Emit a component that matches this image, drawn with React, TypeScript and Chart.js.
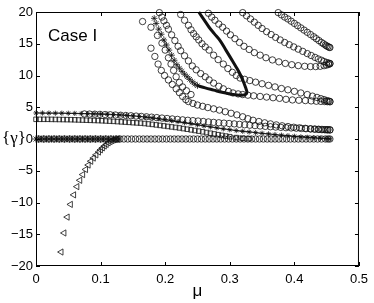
import React, { useEffect, useRef } from 'react';
import { Chart, registerables } from 'chart.js';

Chart.register(...registerables);

// ---------- data (μ, γ) ----------
const triMu = [0.039, 0.0435, 0.0485, 0.0535, 0.0585, 0.0635, 0.068, 0.0725, 0.077, 0.081, 0.085, 0.089, 0.093, 0.097, 0.1, 0.103, 0.106, 0.109, 0.112, 0.115, 0.118, 0.121, 0.124, 0.127];
const triG = [-17.8, -14.8, -12.3, -10.3, -8.8, -7.5, -6.5, -5.6, -4.8, -4.1, -3.5, -3.0, -2.5, -2.05, -1.7, -1.4, -1.1, -0.85, -0.6, -0.4, -0.25, -0.12, -0.05, 0];

const zeroStarMu = [0, 0.004, 0.008, 0.012, 0.016, 0.02, 0.024, 0.028, 0.032, 0.036,
  0.04, 0.044, 0.048, 0.052, 0.056, 0.06, 0.064, 0.068, 0.072, 0.076,
  0.08, 0.084, 0.088, 0.092, 0.096, 0.1, 0.104, 0.108, 0.112, 0.116,
  0.12, 0.124, 0.128];
const zeroStarG = [0, 0, 0, 0, 0, 0, 0, 0, 0, 0,
  0, 0, 0, 0, 0, 0, 0, 0, 0, 0,
  0, 0, 0, 0, 0, 0, 0, 0, 0, 0,
  0, 0, 0];

const zeroCircMu = [0.004, 0.012, 0.02, 0.028, 0.036, 0.044, 0.052, 0.06, 0.068, 0.076,
  0.084, 0.092, 0.1, 0.108, 0.116, 0.124, 0.13, 0.136, 0.142, 0.148,
  0.154, 0.16, 0.166, 0.172, 0.178, 0.184, 0.19, 0.196, 0.202, 0.208,
  0.214, 0.22, 0.226, 0.232, 0.238, 0.244, 0.25, 0.256, 0.262, 0.268,
  0.274, 0.28, 0.286, 0.292, 0.298, 0.304, 0.31, 0.316, 0.322, 0.328,
  0.334, 0.34, 0.346, 0.352, 0.358, 0.364, 0.37, 0.376, 0.382, 0.388,
  0.394, 0.4, 0.406, 0.412, 0.418, 0.424, 0.43, 0.436, 0.442, 0.448,
  0.452, 0.455];
const zeroCircG = [0, 0, 0, 0, 0, 0, 0, 0, 0, 0,
  0, 0, 0, 0, 0, 0, 0, 0, 0, 0,
  0, 0, 0, 0, 0, 0, 0, 0, 0, 0,
  0, 0, 0, 0, 0, 0, 0, 0, 0, 0,
  0, 0, 0, 0, 0, 0, 0, 0, 0, 0,
  0, 0, 0, 0, 0, 0, 0, 0, 0, 0,
  0, 0, 0, 0, 0, 0, 0, 0, 0, 0,
  0, 0];

const sqMu = [0, 0.006, 0.012, 0.018, 0.024, 0.03, 0.036, 0.042, 0.048, 0.054,
  0.06, 0.066, 0.072, 0.078, 0.084, 0.09, 0.096, 0.102, 0.108, 0.114,
  0.12, 0.126, 0.132, 0.138, 0.144, 0.15, 0.156, 0.162, 0.168, 0.174,
  0.18, 0.186, 0.192, 0.198, 0.204, 0.21, 0.216, 0.222, 0.228, 0.234,
  0.24, 0.246, 0.252, 0.258, 0.264, 0.27, 0.276, 0.282, 0.288, 0.294,
  0.3, 0.31, 0.32, 0.33];
const sqG = [3.1, 3.1, 3.1, 3.1, 3.09, 3.08, 3.07, 3.06, 3.05, 3.04,
  3.02, 3.0, 2.98, 2.96, 2.94, 2.92, 2.9, 2.87, 2.84, 2.81,
  2.78, 2.74, 2.7, 2.66, 2.62, 2.57, 2.53, 2.5, 2.44, 2.37,
  2.3, 2.22, 2.14, 2.06, 1.98, 1.9, 1.82, 1.74, 1.64, 1.54,
  1.44, 1.34, 1.24, 1.13, 1.02, 0.91, 0.8, 0.68, 0.57, 0.46,
  0.36, 0.22, 0.12, 0.05];

const hMu = [0, 0.01, 0.02, 0.03, 0.04, 0.05, 0.06, 0.07, 0.08, 0.09,
  0.1, 0.11, 0.12, 0.13, 0.14, 0.15, 0.16, 0.17, 0.18, 0.19,
  0.2, 0.21, 0.22, 0.23, 0.24, 0.25, 0.26, 0.27, 0.28, 0.29,
  0.3, 0.31, 0.32, 0.33, 0.34, 0.35, 0.36, 0.37, 0.38, 0.39,
  0.4, 0.41, 0.42, 0.43, 0.44, 0.45, 0.455];
const hG = [4.1, 4.09, 4.08, 4.07, 4.06, 4.05, 4.03, 4.01, 3.99, 3.97,
  3.94, 3.9, 3.85, 3.79, 3.72, 3.64, 3.55, 3.44, 3.32, 3.19,
  3.05, 2.9, 2.74, 2.57, 2.4, 2.23, 2.06, 1.9, 1.75, 1.6,
  1.46, 1.33, 1.22, 1.11, 1.0, 0.9, 0.8, 0.7, 0.6, 0.51,
  0.42, 0.34, 0.26, 0.19, 0.12, 0.06, 0.03];

const m1Mu = [0.075, 0.083, 0.091, 0.099, 0.107, 0.115, 0.123, 0.131, 0.139, 0.147,
  0.155, 0.163, 0.171, 0.179, 0.187, 0.195, 0.203, 0.211, 0.219, 0.227,
  0.235, 0.243, 0.251, 0.259, 0.267, 0.275, 0.283, 0.291, 0.299, 0.307,
  0.315, 0.323, 0.331, 0.339, 0.347, 0.355, 0.363, 0.371, 0.379, 0.387,
  0.395, 0.403, 0.411, 0.418, 0.425, 0.431, 0.437, 0.442, 0.447, 0.451, 0.455];
const m1G = [3.95, 3.93, 3.91, 3.88, 3.85, 3.82, 3.78, 3.74, 3.7, 3.66,
  3.61, 3.56, 3.5, 3.44, 3.37, 3.3, 3.23, 3.16, 3.09, 3.02,
  2.95, 2.89, 2.83, 2.76, 2.69, 2.62, 2.56, 2.5, 2.44, 2.38,
  2.31, 2.24, 2.17, 2.11, 2.05, 1.99, 1.93, 1.88, 1.83, 1.78,
  1.74, 1.7, 1.66, 1.62, 1.58, 1.55, 1.52, 1.49, 1.46, 1.44, 1.42];

const k1Mu = [0.165, 0.178, 0.188, 0.195, 0.2, 0.205, 0.209, 0.213, 0.217, 0.222, 0.227, 0.233, 0.24];
const k1G = [18.5, 17.6, 16.3, 15.1, 14.0, 12.8, 11.8, 10.8, 9.8, 8.9, 8.2, 7.6, 7.0];

const k2Mu = [0.178, 0.184, 0.189, 0.194, 0.199, 0.205, 0.211, 0.217, 0.222, 0.227,
  0.232, 0.236, 0.243, 0.25, 0.258, 0.266, 0.275, 0.284, 0.293, 0.302,
  0.311, 0.32, 0.328, 0.336, 0.345, 0.354, 0.363, 0.372, 0.381, 0.39,
  0.399, 0.408, 0.417, 0.425, 0.432, 0.438, 0.444, 0.449, 0.452, 0.455];
const k2G = [14.3, 13.0, 11.8, 10.8, 10.0, 9.3, 8.6, 7.9, 7.3, 6.7,
  6.2, 5.9, 5.6, 5.35, 5.15, 4.95, 4.75, 4.55, 4.3, 4.05,
  3.8, 3.5, 3.2, 2.95, 2.75, 2.55, 2.38, 2.22, 2.08, 1.96,
  1.85, 1.76, 1.68, 1.61, 1.56, 1.52, 1.49, 1.47, 1.46, 1.45];

const caMu = [0.375, 0.38, 0.385, 0.39, 0.395, 0.4, 0.405, 0.41, 0.415, 0.42, 0.425, 0.43, 0.434, 0.438, 0.442, 0.445, 0.448, 0.45, 0.452, 0.454, 0.455];
const caG = [19.9, 19.55, 19.2, 18.9, 18.55, 18.2, 17.85, 17.5, 17.15, 16.8, 16.45, 16.1, 15.8, 15.5, 15.2, 15.0, 14.8, 14.65, 14.55, 14.45, 14.4];

const cbLowMu = [0.267, 0.272, 0.277, 0.283, 0.289, 0.295, 0.301, 0.308, 0.315, 0.322,
  0.33, 0.338, 0.347, 0.356, 0.366, 0.376, 0.386, 0.396, 0.406, 0.416,
  0.425, 0.433, 0.44, 0.446, 0.45, 0.453, 0.455];
const cbLowG = [19.8, 19.2, 18.7, 18.1, 17.6, 17.0, 16.4, 15.8, 15.2, 14.6,
  14.1, 13.6, 13.2, 12.8, 12.45, 12.15, 11.9, 11.7, 11.55, 11.45,
  11.4, 11.4, 11.45, 11.55, 11.65, 11.75, 11.85];

const cbUpMu = [0.32, 0.326, 0.332, 0.338, 0.344, 0.35, 0.357, 0.364, 0.371, 0.378,
  0.385, 0.392, 0.399, 0.406, 0.413, 0.42, 0.426, 0.432, 0.437, 0.442,
  0.446, 0.45, 0.453, 0.455];
const cbUpG = [19.9, 19.4, 18.9, 18.4, 17.9, 17.4, 16.9, 16.45, 16.0, 15.6,
  15.2, 14.85, 14.5, 14.15, 13.8, 13.45, 13.15, 12.85, 12.6, 12.4,
  12.2, 12.05, 11.95, 11.9];

const ccMu = [0.224, 0.23, 0.236, 0.24, 0.244, 0.248, 0.252, 0.257, 0.262, 0.268,
  0.275, 0.282, 0.29, 0.297, 0.304, 0.31, 0.316, 0.323, 0.331, 0.34,
  0.35, 0.36, 0.37, 0.38, 0.39, 0.4, 0.41, 0.42, 0.428, 0.435,
  0.441, 0.446, 0.45, 0.453, 0.455];
const ccG = [19.6, 18.7, 17.9, 17.2, 16.6, 16.1, 15.6, 15.0, 14.5, 14.0,
  13.2, 12.5, 11.8, 11.1, 10.5, 10.0, 9.6, 9.4, 9.2, 8.95,
  8.7, 8.45, 8.2, 7.95, 7.75, 7.5, 7.25, 7.0, 6.75, 6.55,
  6.35, 6.2, 6.05, 5.97, 5.92];

const ceMu = [0.191, 0.195, 0.198, 0.202, 0.205, 0.21, 0.215, 0.22, 0.224, 0.23,
  0.236, 0.242, 0.248, 0.255, 0.262, 0.268, 0.275, 0.283, 0.29, 0.298,
  0.305, 0.313, 0.32, 0.328, 0.337, 0.347, 0.357, 0.367, 0.377, 0.387,
  0.397, 0.407, 0.417, 0.426, 0.434, 0.441, 0.447, 0.451, 0.455];
const ceG = [19.9, 19.2, 18.6, 17.9, 17.3, 16.4, 15.5, 14.6, 13.9, 13.1,
  12.3, 11.5, 10.9, 10.3, 9.8, 9.3, 8.8, 8.3, 7.9, 7.5,
  7.25, 7.1, 7.0, 6.9, 6.8, 6.7, 6.6, 6.5, 6.4, 6.25,
  6.15, 6.1, 6.05, 6.0, 5.95, 5.92, 5.9, 5.88, 5.85];

const f1Mu = [0.252, 0.26, 0.268, 0.276, 0.285, 0.294, 0.303, 0.31, 0.316, 0.32, 0.323, 0.3255, 0.3265, 0.325, 0.319, 0.31, 0.3, 0.288, 0.275, 0.262, 0.25];
const f1G = [20, 18.8, 17.6, 16.6, 15.5, 14.0, 12.5, 11.3, 10.2, 9.3, 8.5, 7.8, 7.35, 7.05, 6.9, 6.95, 7.1, 7.35, 7.7, 8.05, 8.4];

const sMu = [0.25, 0.246, 0.242, 0.238, 0.234, 0.23, 0.226, 0.222, 0.218, 0.214, 0.21, 0.206, 0.202, 0.198, 0.194, 0.19, 0.186, 0.183];
const sG = [8.4, 8.65, 9.0, 9.4, 9.8, 10.2, 10.65, 11.15, 11.7, 12.4, 13.2, 14.0, 14.8, 15.6, 16.5, 17.3, 18.2, 19.0];

const xTickValues = [0, 0.1, 0.2, 0.3, 0.4, 0.5];
const yTickValues = [-20, -15, -10, -5, 0, 5, 10, 15, 20];
const caseLabel = 'Case I';
const xTitle = 'μ';
const yTitle = '{γ}';

// ---------- helpers ----------
const INK = 'rgba(15,15,15,0.88)';

function pts(mu: number[], g: number[]) {
  return mu.map((x, i) => ({ x, y: g[i] }));
}

function markers(mu: number[], g: number[], style: string, radius: number, extra: any = {}) {
  return {
    data: pts(mu, g),
    showLine: false,
    pointStyle: style,
    pointRadius: radius,
    pointBorderColor: INK,
    pointBackgroundColor: 'rgba(0,0,0,0)',
    pointBorderWidth: 0.9,
    borderColor: INK,
    clip: false,
    ...extra,
  };
}

const deco = {
  id: 'deco',
  afterDraw(chart: any) {
    const { ctx, chartArea: a, scales } = chart;
    const xs = scales.x;
    const ys = scales.y;
    ctx.save();
    ctx.strokeStyle = '#000';
    ctx.lineWidth = 1;
    ctx.strokeRect(a.left + 0.5, a.top + 0.5, a.right - a.left - 1, a.bottom - a.top - 1);
    const L = 4;
    ctx.beginPath();
    for (const v of xTickValues) {
      const px = Math.round(xs.getPixelForValue(v)) + 0.5;
      ctx.moveTo(px, a.bottom);
      ctx.lineTo(px, a.bottom - L);
      ctx.moveTo(px, a.top);
      ctx.lineTo(px, a.top + L);
    }
    for (const v of yTickValues) {
      const py = Math.round(ys.getPixelForValue(v)) + 0.5;
      ctx.moveTo(a.left, py);
      ctx.lineTo(a.left + L, py);
      ctx.moveTo(a.right, py);
      ctx.lineTo(a.right - L, py);
    }
    ctx.stroke();

    ctx.fillStyle = '#000';
    ctx.font = '17px "Liberation Sans", Arial, sans-serif';
    ctx.textAlign = 'left';
    ctx.textBaseline = 'alphabetic';
    ctx.fillText(caseLabel, a.left + 12, a.top + 29);
    ctx.textAlign = 'center';
    ctx.fillText(xTitle, (a.left + a.right) / 2, a.bottom + 30);
    ctx.font = '17px "Liberation Serif", "DejaVu Serif", serif';
    ctx.textBaseline = 'middle';
    ctx.fillText(yTitle, a.left - 22, ys.getPixelForValue(0));
    ctx.restore();
  },
};

export default function App() {
  const ref = useRef<HTMLCanvasElement>(null);
  useEffect(() => {
    document.body.style.margin = '0';
    const datasets: any[] = [
      { data: pts(f1Mu, f1G), showLine: true, tension: 0.4, borderColor: '#111', borderWidth: 3, pointRadius: 0, clip: false },
      markers(sMu, sG, 'star', 3.2),
      markers(hMu, hG, 'star', 2.6, { showLine: true, borderWidth: 1.3 }),
      markers(triMu, triG, 'triangle', 3.6, { pointRotation: -90 }),
      markers(zeroStarMu, zeroStarG, 'star', 3.6),
      markers(zeroCircMu, zeroCircG, 'circle', 3.2),
      markers(sqMu, sqG, 'rect', 3.2),
      markers(m1Mu, m1G, 'circle', 3.2),
      markers(k1Mu, k1G, 'circle', 3.2),
      markers(k2Mu, k2G, 'circle', 3.2),
      markers(caMu, caG, 'circle', 3.2),
      markers(cbLowMu, cbLowG, 'circle', 3.2),
      markers(cbUpMu, cbUpG, 'circle', 3.2),
      markers(ccMu, ccG, 'circle', 3.2),
      markers(ceMu, ceG, 'circle', 3.2),
    ];
    const tickFont = { family: '"Liberation Sans", Arial, sans-serif', size: 13 };
    const chart = new Chart(ref.current as HTMLCanvasElement, {
      type: 'scatter',
      data: { datasets },
      options: {
        animation: false,
        responsive: false,
        devicePixelRatio: 1,
        layout: { padding: { left: 0, right: 12, top: 12, bottom: 0 } },
        plugins: { legend: { display: false }, tooltip: { enabled: false } },
        scales: {
          x: {
            type: 'linear',
            min: 0,
            max: 0.5,
            ticks: {
              stepSize: 0.1,
              color: '#000',
              font: tickFont,
              padding: 6,
              maxRotation: 0,
              callback: (v: any) => (Number(v) === 0 ? '0' : Number(v).toFixed(1)),
            },
            grid: { display: false, drawTicks: false },
            border: { display: false },
            afterFit: (s: any) => { s.height = 37; },
          },
          y: {
            type: 'linear',
            min: -20,
            max: 20,
            ticks: {
              stepSize: 5,
              color: '#000',
              font: tickFont,
              padding: 3,
              callback: (v: any) => {
                const n = Math.round(Number(v));
                return n < 0 ? '\u2212' + Math.abs(n) : String(n);
              },
            },
            grid: { display: false, drawTicks: false },
            border: { display: false },
            afterFit: (s: any) => { s.width = 36; },
          },
        },
      } as any,
      plugins: [deco],
    });
    return () => chart.destroy();
  }, []);
  return (
    <div style={{ width: 374, height: 303, background: '#fff' }}>
      <canvas ref={ref} width={374} height={303} style={{ display: 'block' }} />
    </div>
  );
}
